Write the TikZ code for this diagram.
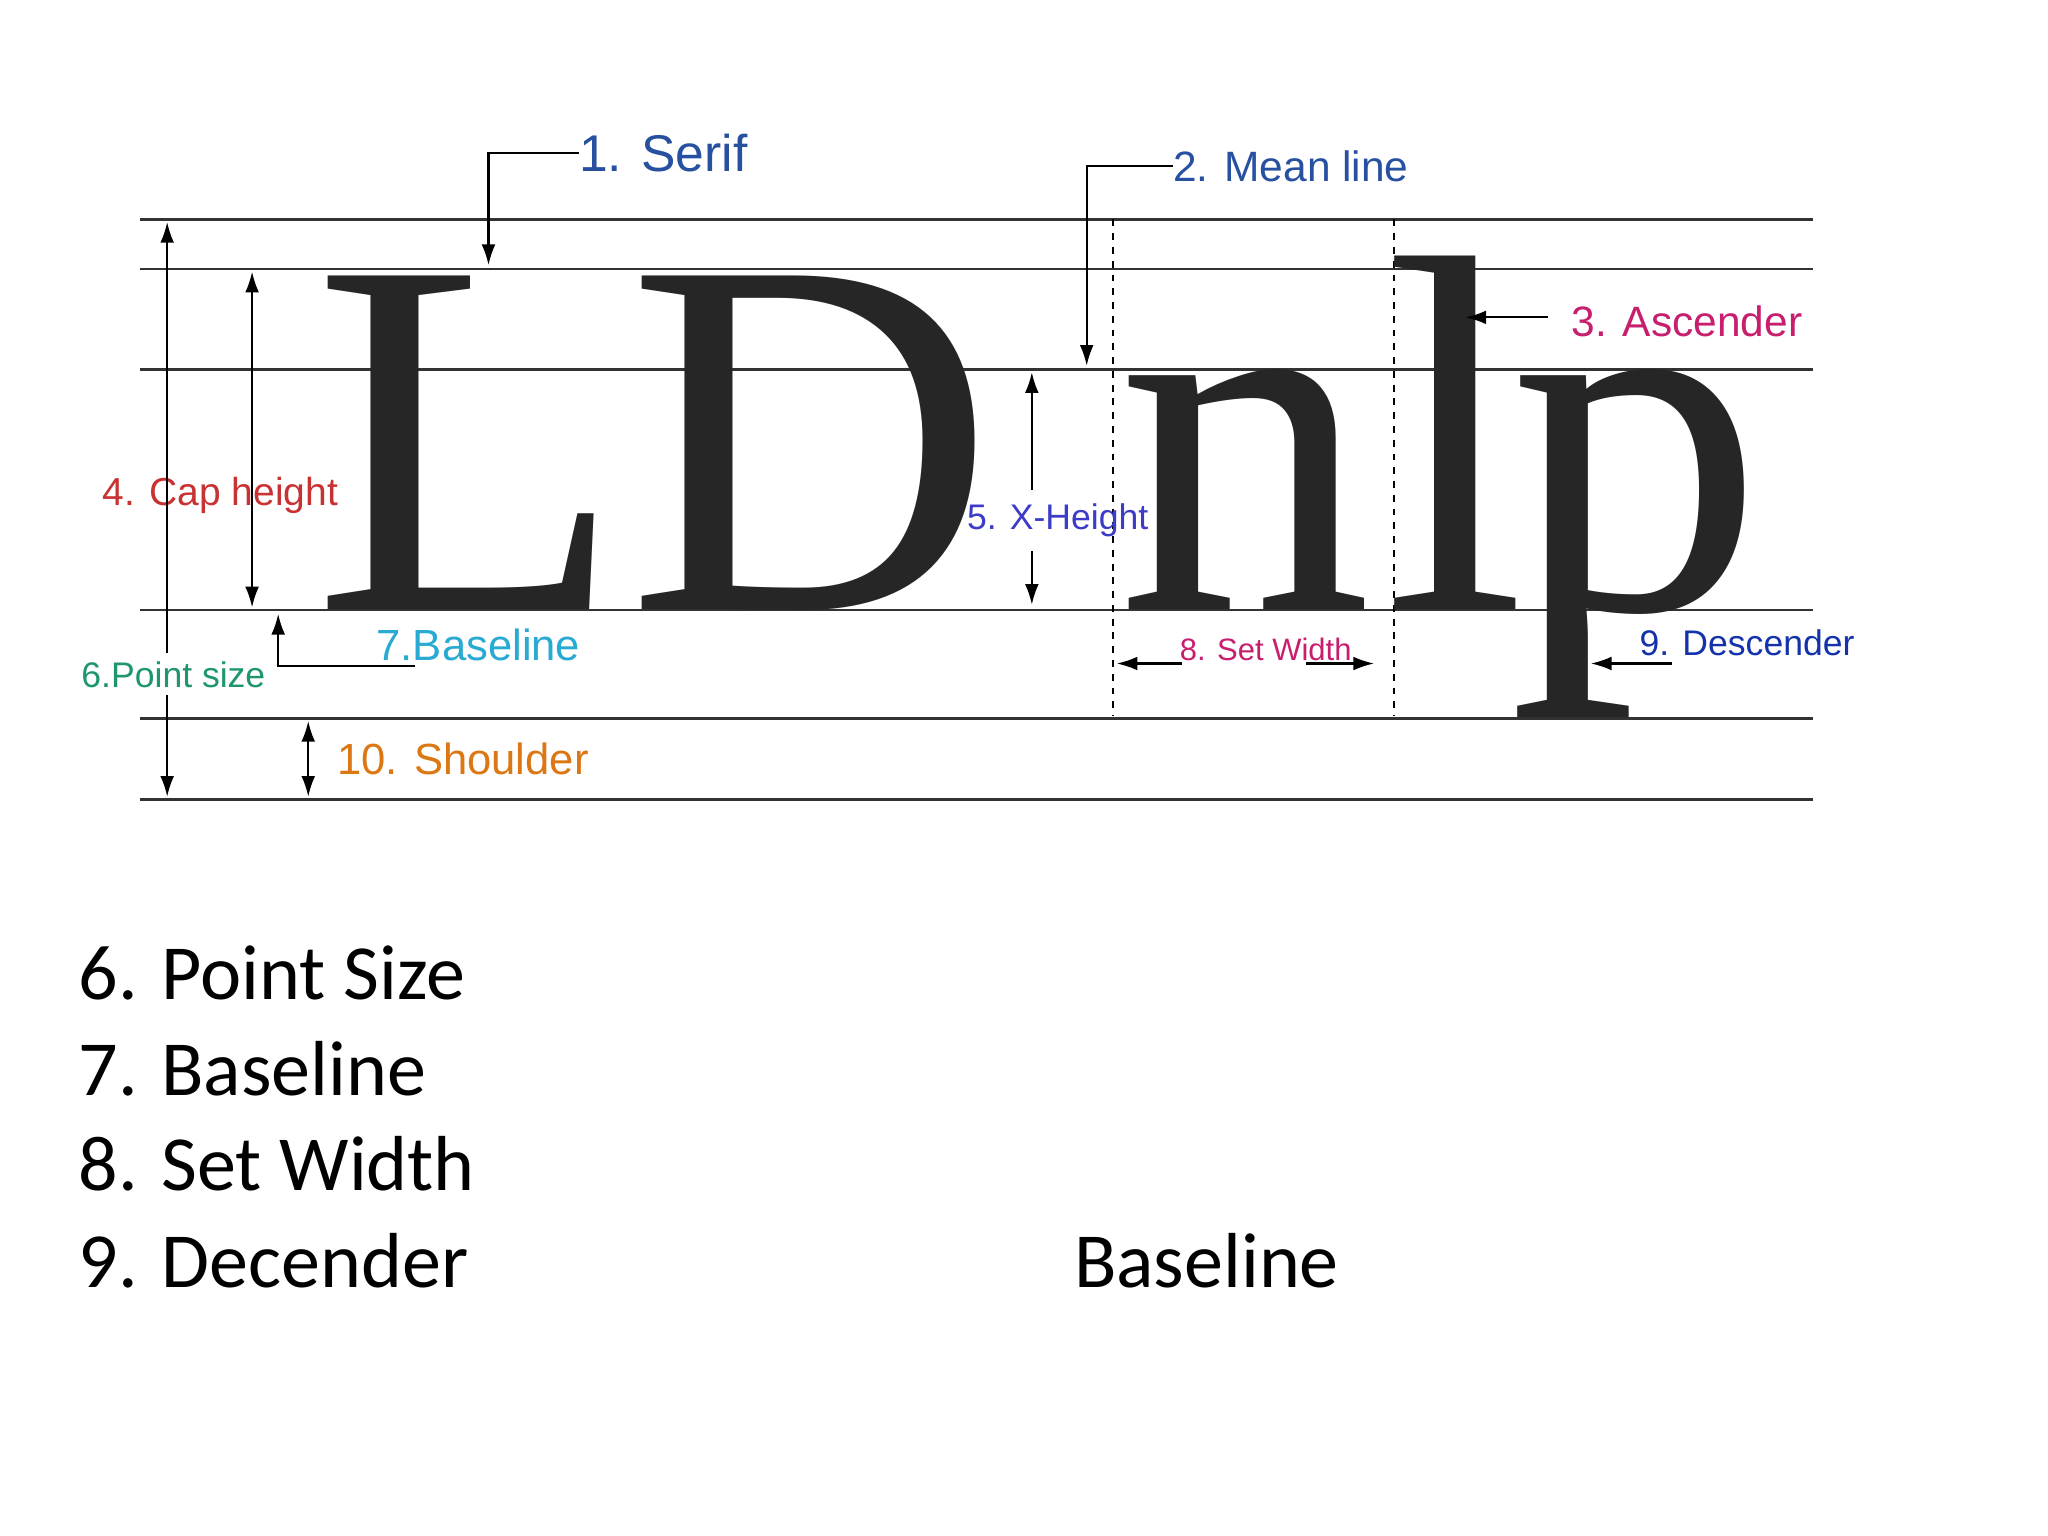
\documentclass[tikz,border=0pt]{standalone}
\usepackage{fontspec}
\setmainfont{Liberation Sans}
\newfontfamily\tms{Liberation Serif}
\newfontfamily\carfont{Carlito}
\usetikzlibrary{arrows.meta}
\definecolor{cblue}{RGB}{40,80,160}
\definecolor{cmag}{RGB}{200,30,110}
\definecolor{cred}{RGB}{200,50,50}
\definecolor{cpur}{RGB}{60,60,200}
\definecolor{ccyan}{RGB}{40,170,210}
\definecolor{cteal}{RGB}{30,150,110}
\definecolor{corange}{RGB}{220,120,20}
\definecolor{cdblue}{RGB}{20,50,170}
\tikzset{gl/.style={line width=1.1pt,black!80},
 ar/.style={line width=0.9pt,-{Latex[length=9pt,width=6pt]}},
 dar/.style={line width=0.9pt,{Latex[length=9pt,width=6pt]}-{Latex[length=9pt,width=6pt]}},
 big/.style={font=\tms\fontsize{222}{222}\selectfont,inner sep=0pt,anchor=base west,text=black!85},
 lab/.style={inner sep=0pt,anchor=west},
 bot/.style={font=\carfont\fontsize{34}{34}\selectfont,inner sep=0pt,anchor=west}}
\begin{document}
\begin{tikzpicture}[x=0.02cm,y=-0.02cm]
\useasboundingbox[fill=white] (0,0) rectangle (1568,1176);
\foreach \y in {168,206,283,467,550,612} \draw[gl] (107,\y) -- (1388,\y);
\draw[dashed,line width=0.8pt] (852,168) -- (852,548);
\draw[dashed,line width=0.8pt] (1067,168) -- (1067,548);
\node[big] (L) at (240,467) {L};
\node[big] (D) at (480,467) {D};
\node[big] (n) at (855,467) {n};
\node[big] (l) at (1060,467) {l};
\node[big] (p) at (1155,467) {p};
% 1 serif
\node[lab,text=cblue,font=\fontsize{22.5}{22.5}\selectfont] (s1) at (443,117) {1. Serif};
\coordinate (s1a) at (374,203);
\draw[ar] (s1.west) -- (374,117) -- (s1a);
% 2 mean line
\node[lab,text=cblue,font=\fontsize{18.5}{18.5}\selectfont] (s2) at (898,127) {2. Mean line};
\coordinate (s2a) at (832,280);
\draw[ar] (s2.west) -- (832,127) -- (s2a);
% 3 ascender
\node[lab,text=cmag,font=\fontsize{18.5}{18.5}\selectfont] (s3) at (1203,246) {3. Ascender};
\coordinate (s3a) at (1122,243);
\draw[ar] (1185,243) -- (s3a);
% 4 cap height
\coordinate (c1) at (193,208); \coordinate (c2) at (193,465);
\draw[dar] (c1) -- (c2);
\node[lab,text=cred,font=\fontsize{17}{17}\selectfont] (s4) at (78,379) {4. Cap height};
% 6 point size
\node[lab,text=cteal,font=\fontsize{15.5}{15.5}\selectfont] (s6) at (62,517) {6.Point size};
\coordinate (p1) at (128,170); \coordinate (p2) at (128,610);
\draw[ar] (128,500) -- (p1);
\draw[ar] (128,532) -- (p2);
% 5 x-height
\node[lab,text=cpur,font=\fontsize{15.5}{15.5}\selectfont] (s5) at (740,398) {5. X-Height};
\coordinate (x1) at (790,285); \coordinate (x2) at (790,463);
\draw[ar] (790,375) -- (x1);
\draw[ar] (790,422) -- (x2);
% 7 baseline
\node[lab,text=ccyan,font=\fontsize{19}{19}\selectfont] (s7) at (288,494) {7.Baseline};
\coordinate (b1) at (213,470);
\draw[ar] (318,510) -- (213,510) -- (b1);
% 8 set width
\node[lab,text=cmag,font=\fontsize{13.5}{13.5}\selectfont] (s8) at (903,497) {8. Set Width};
\coordinate (w1) at (855,508); \coordinate (w2) at (1052,508);
\draw[ar] (905,508) -- (w1);
\draw[ar] (1000,508) -- (w2);
% 9 descender
\node[lab,text=cdblue,font=\fontsize{15.5}{15.5}\selectfont] (s9) at (1255,492) {9. Descender};
\coordinate (d1) at (1218,508);
\draw[ar] (1280,508) -- (d1);
% 10 shoulder
\coordinate (h1) at (236,552); \coordinate (h2) at (236,610);
\draw[dar] (h1) -- (h2);
\node[lab,text=corange,font=\fontsize{19}{19}\selectfont] (s10) at (258,581) {10. Shoulder};
% bottom list
\node[bot] (t6) at (60,745) {6. Point Size};
\node[bot] (t7) at (60,818) {7. Baseline};
\node[bot] (t8) at (60,891) {8. Set Width};
\node[bot] (t9) at (60,965) {9. Decender};
\node[bot] (tb) at (822,965) {Baseline};
\end{tikzpicture}
\end{document}
